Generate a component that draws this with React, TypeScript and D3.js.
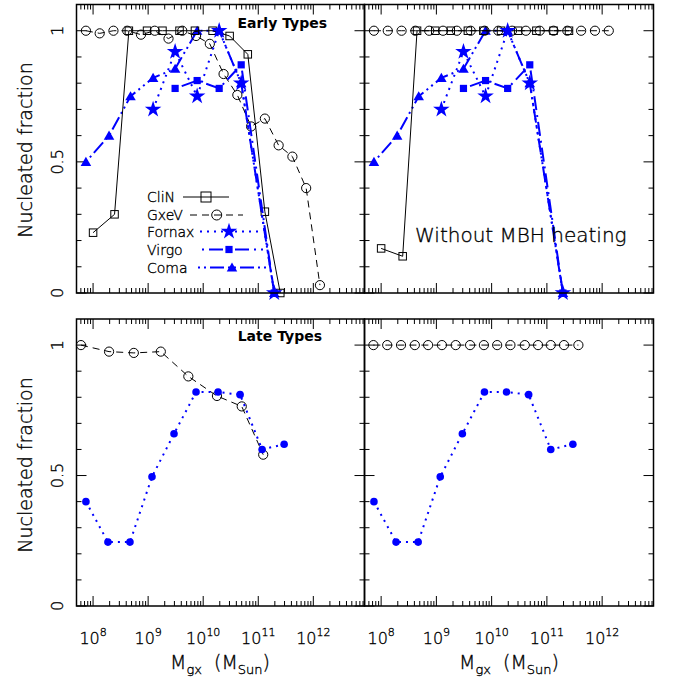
import React, { useMemo } from "react";
import * as d3 from "d3";

// log10(M_gx / M_sun) for each series, and nucleated fraction
const cliNLogM = [8.0, 8.39, 8.65, 8.98, 9.26, 9.57, 9.85, 10.17, 10.48, 10.81, 11.12, 11.4];
const cliNEarly = [0.23, 0.3, 1, 1, 1, 1, 1, 1, 0.98, 0.91, 0.31, 0];
const cliNNoHeat = [0.17, 0.14, 1, 1, 1, 1, 1, 1, 1, 1, 1, 1];

const gxevEarlyLogM = [7.87, 8.12, 8.37, 8.62, 8.87, 9.12, 9.37, 9.62, 9.87, 10.12, 10.37, 10.62, 10.87, 11.12, 11.37, 11.62, 11.87, 12.12];
const gxevEarly = [1, 0.99, 1, 1, 0.985, 1, 0.97, 1, 0.98, 0.95, 0.835, 0.755, 0.635, 0.665, 0.563, 0.52, 0.4, 0.03];
const gxevNoHeat = [1, 1, 1, 1, 1, 1, 1, 1, 1, 1, 1, 1, 1, 1, 1, 1, 1, 1];

const fornaxLogM = [9.09, 9.49, 9.89, 10.29, 10.69, 11.29];
const fornaxFrac = [0.7, 0.92, 0.75, 1.0, 0.8, 0];
const virgoLogM = [9.49, 9.89, 10.29, 10.69, 11.29];
const virgoFrac = [0.78, 0.81, 0.78, 0.87, 0];
const comaLogM = [7.87, 8.29, 8.68, 9.09, 9.49, 9.89, 10.29, 10.69, 11.29];
const comaFrac = [0.5, 0.6, 0.75, 0.82, 0.855, 1.0, 1.0, 0.8, 0];

const gxevLateLogM = [7.78, 8.29, 8.74, 9.23, 9.73, 10.25, 10.7, 11.09];
const gxevLate = [1, 0.975, 0.97, 0.975, 0.88, 0.805, 0.765, 0.58];
const gxevLateNoHeatLogM = [7.86, 8.11, 8.36, 8.61, 8.85, 9.1, 9.35, 9.61, 9.86, 10.1, 10.34, 10.6, 10.84, 11.07, 11.31, 11.57];
const gxevLateNoHeat = [1, 1, 1, 1, 1, 1, 1, 1, 1, 1, 1, 1, 1, 1, 1, 1];

const lateLogM = [7.87, 8.27, 8.67, 9.07, 9.47, 9.87, 10.27, 10.67, 11.07, 11.47];
const lateFrac = [0.4, 0.245, 0.245, 0.495, 0.66, 0.82, 0.82, 0.81, 0.6, 0.62];

const decadeLabels = ["8", "9", "10", "11", "12"];
const yTickLabels = ["0", "0.5", "1"];

const W = 673;
const H = 683;
const FONT = "DejaVu Sans";
const BLUE = "#0000ff";
// thin, stroke-font look
const thin = { fontFamily: FONT, fontWeight: 300, fill: "#000", stroke: "#000", strokeWidth: 0.35 };

const zip = (xs, ys) => xs.map((x, i) => [x, ys[i]]);

function Panel({ x0, x1, y0, y1, showYLabels, showXLabels, children }) {
  const x = useMemo(() => d3.scaleLog().domain([5e7, 8.5e12]).range([x0, x1]), [x0, x1]);
  const y = useMemo(() => d3.scaleLinear().domain([0, 1.1]).range([y1, y0]), [y0, y1]);
  const xTicks = x.ticks();
  const yTicks = d3.range(0, 11).map((i) => i / 10);

  return (
    <g>
      {/* x ticks top + bottom */}
      {xTicks.map((t, i) => {
        const major = Math.abs(Math.log10(t) - Math.round(Math.log10(t))) < 1e-6;
        const len = major ? 10 : 5;
        const px = x(t);
        return (
          <g key={"xt" + i} stroke="#000" strokeWidth={1}>
            <line x1={px} x2={px} y1={y1} y2={y1 - len} />
            <line x1={px} x2={px} y1={y0} y2={y0 + len} />
          </g>
        );
      })}
      {yTicks.map((t, i) => {
        const major = i % 5 === 0;
        const len = major ? 10 : 5;
        const py = y(t);
        return (
          <g key={"yt" + i} stroke="#000" strokeWidth={1}>
            <line x1={x0} x2={x0 + len} y1={py} y2={py} />
            <line x1={x1} x2={x1 - len} y1={py} y2={py} />
          </g>
        );
      })}
      {children(x, y)}
      <rect x={x0} y={y0} width={x1 - x0} height={y1 - y0} fill="none" stroke="#000" strokeWidth={1.5} />
      {showYLabels &&
        yTickLabels.map((l) => (
          <text key={l} transform={`translate(63,${y(+l)}) rotate(-90)`} textAnchor="middle" fontSize={16} {...thin}>
            {l}
          </text>
        ))}
      {showXLabels &&
        decadeLabels.map((d) => (
          <text key={d} x={x(Math.pow(10, +d))} y={644} textAnchor="middle" fontSize={16} {...thin}>
            10
            <tspan dy={-8} fontSize={11}>
              {d}
            </tspan>
          </text>
        ))}
    </g>
  );
}

function Series({ x, y, logM, frac, stroke, width = 1, dash, marker }) {
  const pts = zip(logM, frac);
  const line = d3
    .line()
    .x((d) => x(Math.pow(10, d[0])))
    .y((d) => y(d[1]));
  return (
    <g>
      <path d={line(pts)} fill="none" stroke={stroke} strokeWidth={width} strokeDasharray={dash} />
      {pts.map((d, i) => {
        const px = x(Math.pow(10, d[0]));
        const py = y(d[1]);
        return <g key={i}>{marker(px, py)}</g>;
      })}
    </g>
  );
}

const openCircle = (px, py, r = 4.6) => <circle cx={px} cy={py} r={r} fill="none" stroke="#000" strokeWidth={1} />;
const openSquare = (px, py, s = 7.5) => (
  <rect x={px - s / 2} y={py - s / 2} width={s} height={s} fill="none" stroke="#000" strokeWidth={1} />
);
const starPath = d3.symbol(d3.symbolStar, 85)();
const squarePath = d3.symbol(d3.symbolSquare, 52)();
const triPath = d3.symbol(d3.symbolTriangle, 48)();
const star = (px, py) => <path d={starPath} transform={`translate(${px},${py})`} fill={BLUE} />;
const fSquare = (px, py) => <path d={squarePath} transform={`translate(${px},${py})`} fill={BLUE} />;
const tri = (px, py) => <path d={triPath} transform={`translate(${px},${py + 1})`} fill={BLUE} />;
const dot = (px, py) => <circle cx={px} cy={py} r={3.8} fill={BLUE} />;

const DOT = "2,5";
const DASHDOT = "2,5,14,5";
const DASHDOTDOT = "2,4,2,4,14,4";
const DASH = "7,5";

function EarlyPanel({ x0, x1, noHeat }) {
  return (
    <Panel x0={x0} x1={x1} y0={4.5} y1={293} showYLabels={!noHeat}>
      {(x, y) => (
        <g>
          <Series x={x} y={y} logM={comaLogM} frac={comaFrac} stroke={BLUE} width={2} dash={DASHDOTDOT} marker={tri} />
          <Series x={x} y={y} logM={gxevEarlyLogM} frac={noHeat ? gxevNoHeat : gxevEarly} stroke="#000" dash={DASH} marker={openCircle} />
          <Series x={x} y={y} logM={cliNLogM} frac={noHeat ? cliNNoHeat : cliNEarly} stroke="#000" marker={openSquare} />
          <Series x={x} y={y} logM={virgoLogM} frac={virgoFrac} stroke={BLUE} width={2} dash={DASHDOT} marker={fSquare} />
          <Series x={x} y={y} logM={fornaxLogM} frac={fornaxFrac} stroke={BLUE} width={2} dash={DOT} marker={star} />
        </g>
      )}
    </Panel>
  );
}

function LatePanel({ x0, x1, noHeat }) {
  return (
    <Panel x0={x0} x1={x1} y0={319} y1={606} showYLabels={!noHeat} showXLabels>
      {(x, y) => (
        <g>
          <Series
            x={x}
            y={y}
            logM={noHeat ? gxevLateNoHeatLogM : gxevLateLogM}
            frac={noHeat ? gxevLateNoHeat : gxevLate}
            stroke="#000"
            dash={DASH}
            marker={openCircle}
          />
          <Series x={x} y={y} logM={lateLogM} frac={lateFrac} stroke={BLUE} width={2} dash={DOT} marker={dot} />
        </g>
      )}
    </Panel>
  );
}

function Legend() {
  const rows = [
    { label: "CliN", y: 197, lx: [183, 229], mx: 206, stroke: "#000", w: 1, dash: undefined, m: (px, py) => openSquare(px, py, 10) },
    { label: "GxeV", y: 215, lx: [190, 243], mx: 216.7, stroke: "#000", w: 1, dash: DASH, m: (px, py) => openCircle(px, py, 5) },
    { label: "Fornax", y: 231.5, lx: [200, 263], mx: 229, stroke: BLUE, w: 2, dash: DOT, m: star },
    { label: "Virgo", y: 249.5, lx: [202, 263], mx: 229, stroke: BLUE, w: 2, dash: DASHDOT, m: fSquare },
    { label: "Coma", y: 267.5, lx: [198, 266], mx: 232, stroke: BLUE, w: 2, dash: DASHDOTDOT, m: tri },
  ];
  return (
    <g>
      {rows.map((r) => (
        <g key={r.label}>
          <text x={147} y={r.y + 5} fontSize={14} {...thin}>
            {r.label}
          </text>
          <line x1={r.lx[0]} x2={r.lx[1]} y1={r.y} y2={r.y} stroke={r.stroke} strokeWidth={r.w} strokeDasharray={r.dash} />
          {r.m(r.mx, r.y)}
        </g>
      ))}
    </g>
  );
}

export default function App() {
  const left = [76.5, 364.5];
  const right = [364.5, 653.5];
  const axisTitle = (cx) => (
    <text x={cx} y={669} textAnchor="middle" fontSize={19} {...thin} style={{ whiteSpace: "pre" }}>
      M<tspan dy={5} fontSize={13}>gx</tspan>
      <tspan dy={-5}>{"  (M"}</tspan>
      <tspan dy={5} fontSize={13}>Sun</tspan>
      <tspan dy={-5}>)</tspan>
    </text>
  );
  return (
    <svg width={W} height={H} style={{ position: "absolute", left: 0, top: 0, background: "#fff" }}>
      <EarlyPanel x0={left[0]} x1={left[1]} />
      <EarlyPanel x0={right[0]} x1={right[1]} noHeat />
      <LatePanel x0={left[0]} x1={left[1]} />
      <LatePanel x0={right[0]} x1={right[1]} noHeat />
      <Legend />
      <text x={327} y={28} textAnchor="end" fontFamily={FONT} fontSize={14} fontWeight="bold">
        Early Types
      </text>
      <text x={322} y={341} textAnchor="end" fontFamily={FONT} fontSize={14} fontWeight="bold">
        Late Types
      </text>
      <text x={415} y={242} fontSize={20} {...thin}>
        Without MBH heating
      </text>
      {[150, 465].map((cy) => (
        <text key={cy} transform={`translate(32,${cy}) rotate(-90)`} textAnchor="middle" fontSize={19} {...thin}>
          Nucleated fraction
        </text>
      ))}
      {axisTitle(220)}
      {axisTitle(509)}
    </svg>
  );
}
